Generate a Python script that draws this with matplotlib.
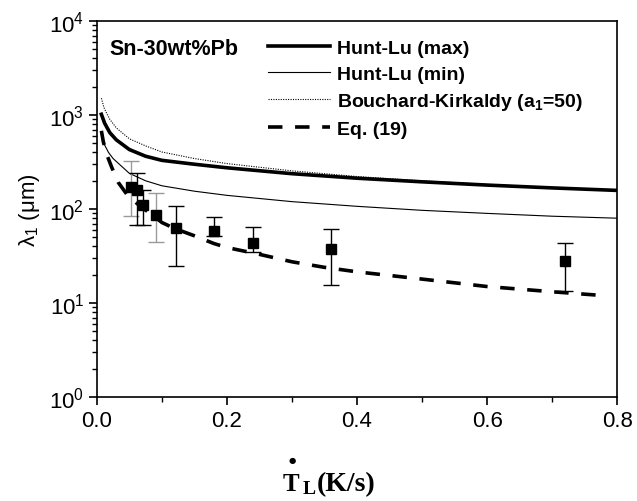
import numpy as np
import matplotlib
matplotlib.use("Agg")
import matplotlib.pyplot as plt
from matplotlib.ticker import FixedLocator, FixedFormatter, LogLocator, NullFormatter, MultipleLocator

plt.rcParams['font.family'] = ['Liberation Sans', 'DejaVu Sans']
plt.rcParams['mathtext.fontset'] = 'custom'
plt.rcParams['mathtext.rm'] = 'Liberation Sans'
plt.rcParams['mathtext.it'] = 'Liberation Sans:italic'
plt.rcParams['mathtext.bf'] = 'Liberation Sans:bold'

# ---- data ----
x_max = [0.007, 0.012, 0.02, 0.03, 0.05, 0.075, 0.1, 0.15, 0.2, 0.3, 0.4, 0.5, 0.6, 0.7, 0.8]
hunt_max = [1020, 820, 650, 545, 430, 365, 330, 300, 275, 238, 213, 195, 180, 168, 158]

x_min = [0.008, 0.012, 0.018, 0.025, 0.05, 0.075, 0.1, 0.15, 0.2, 0.3, 0.4, 0.5, 0.6, 0.7, 0.8]
hunt_min = [560, 480, 400, 345, 240, 200, 177, 155, 140, 120, 107, 97, 90, 84, 80]

x_bk = [0.007, 0.011, 0.015, 0.02, 0.03, 0.05, 0.075, 0.1, 0.15, 0.2, 0.3, 0.4, 0.5, 0.6, 0.7, 0.8]
bouchard = [1510, 1200, 1050, 900, 730, 560, 470, 405, 345, 305, 255, 222, 200, 183, 169, 156]

x_eq = [0.007, 0.01, 0.015, 0.023, 0.033, 0.046, 0.066, 0.087, 0.1, 0.12, 0.15,
        0.18, 0.2, 0.25, 0.3, 0.35, 0.4, 0.5, 0.6, 0.7, 0.78]
eq19 = [680, 520, 385, 277, 192, 144, 108, 85, 72, 62, 52,
        43, 39, 33, 27.5, 24, 21.5, 18, 15, 13.2, 12]

# experimental points
x_exp = [0.053, 0.061, 0.071, 0.091, 0.121, 0.18, 0.24, 0.36, 0.72]
y_exp = [170, 158, 110, 86, 63, 59, 44, 37.5, 28]
y_hi = [327, 245, 160, 148, 108, 81.5, 64, 62, 44]
y_lo = [85, 68, 68, 45, 25, 52, 35, 15.5, 13.5]
bar_gray = [True, False, False, True, False, False, False, False, False]

# ---- plot ----
fig = plt.figure(figsize=(6.37, 5.02), dpi=100)
ax = fig.add_axes([0.152, 0.207, 0.817, 0.749])

ax.plot(x_max, hunt_max, color='black', lw=2.6, label='Hunt-Lu (max)')
ax.plot(x_min, hunt_min, color='black', lw=0.8, label='Hunt-Lu (min)')
ax.plot(x_bk, bouchard, color='black', lw=0.8, linestyle=(0, (1, 1.2)),
        label=r'Bouchard-Kirkaldy (a$_{\mathbf{1}}$=50)')
ax.plot(x_eq, eq19, color='black', lw=2.6, linestyle=(0, (4, 3.5)), label='Eq. (19)')

for i in range(len(x_exp)):
    c = '#9a9a9a' if bar_gray[i] else 'black'
    ax.errorbar([x_exp[i]], [y_exp[i]],
                yerr=[[y_exp[i] - y_lo[i]], [y_hi[i] - y_exp[i]]],
                fmt='none', ecolor=c, elinewidth=1.0, capsize=6, capthick=1.0)
ax.plot(x_exp, y_exp, 's', color='black', markersize=7)

ax.set_yscale('log')
ax.set_xlim(0, 0.8)
ax.set_ylim(1, 1e4)

ax.set_xticks([0, 0.2, 0.4, 0.6, 0.8])
ax.set_xticklabels(['0.0', '0.2', '0.4', '0.6', '0.8'])
ax.xaxis.set_minor_locator(MultipleLocator(0.1))

ax.yaxis.set_major_locator(FixedLocator([1, 10, 100, 1000, 10000]))
ax.yaxis.set_major_formatter(FixedFormatter([r'$10^{0}$', r'$10^{1}$', r'$10^{2}$',
                                             r'$10^{3}$', r'$10^{4}$']))
ax.yaxis.set_minor_locator(LogLocator(base=10, subs=np.arange(2, 10)))
ax.yaxis.set_minor_formatter(NullFormatter())

ax.tick_params(which='major', direction='out', length=6, width=1.2, labelsize=16, pad=3)
ax.tick_params(which='minor', direction='out', length=3.5, width=1.0)
for s in ax.spines.values():
    s.set_linewidth(1.2)

ax.set_ylabel(r'λ$_1$ (μm)', fontsize=16)
ax.yaxis.set_label_coords(-0.105, 0.5)

ax.text(0.025, 0.955, 'Sn-30wt%Pb', transform=ax.transAxes, fontsize=15.5,
        fontweight='bold', va='top', ha='left')

leg = ax.legend(loc='upper left', bbox_to_anchor=(268 / 637, 1 - 40 / 502),
                bbox_transform=fig.transFigure, frameon=False, fontsize=14,
                handlelength=3.2, handletextpad=0.35, labelspacing=0.43,
                borderpad=0, borderaxespad=0)
for t in leg.get_texts():
    t.set_fontweight('bold')

# x label: T with a dot, subscript L, (K/s)
serif = ['Liberation Serif', 'DejaVu Serif']
fig.text(283 / 637, 1 - 491 / 502, 'T', family=serif, fontweight='bold',
         fontsize=18, ha='left', va='baseline')
fig.text(292 / 637, 1 - 461 / 502, '\u25CF', family=['DejaVu Sans'],
         fontsize=6, ha='center', va='center')
fig.text(303 / 637, 1 - 494 / 502, 'L', family=serif, fontweight='bold',
         fontsize=14, ha='left', va='baseline')
fig.text(317 / 637, 1 - 491 / 502, '(K/s)', family=serif, fontweight='bold',
         fontsize=20, ha='left', va='baseline')

fig.savefig('out.png', dpi=100)
